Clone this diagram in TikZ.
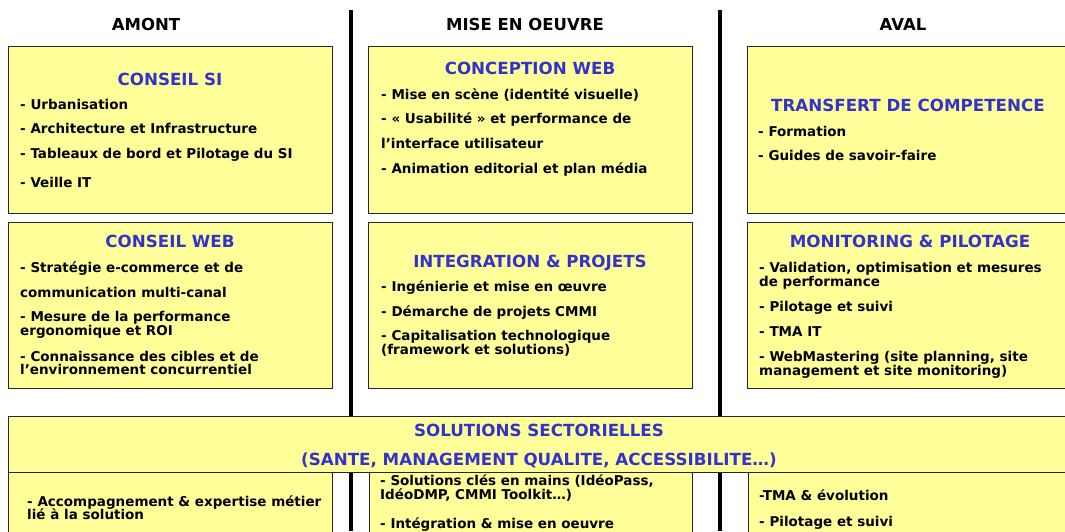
\documentclass[tikz,border=0pt]{standalone}
\usepackage{fontspec}
\setmainfont{DejaVu Sans}
\usepackage{tikz}
\usetikzlibrary{positioning, calc}
\definecolor{boxfill}{HTML}{FFFF99}
\definecolor{titleblue}{HTML}{3333CC}

\begin{document}
\begin{tikzpicture}[x=1pt, y=-1pt,
    box/.style={draw=black!85, line width=1.3pt, fill=boxfill, anchor=north west, inner sep=0pt},
    colhead/.style={font=\bfseries\fontsize{16.5}{18}\selectfont, anchor=base},
    boxtitle/.style={font=\bfseries\fontsize{16.7}{19}\selectfont, text=titleblue, anchor=base},
    entry/.style={font=\bfseries\fontsize{13.5}{15}\selectfont, anchor=base west, inner sep=0pt}]
  \useasboundingbox (0,0) rectangle (1065,531);
  \clip (0,0) rectangle (1065,531);
  %
  \node[colhead] (amont) at (146,30) {AMONT};
  \node[colhead] (mise) at (525,30) {MISE EN OEUVRE};
  \node[colhead] (aval) at (903,30) {AVAL};
  %
  \coordinate (sep1_top) at (351,10);
  \coordinate (sep1_bot) at (351,531);
  \coordinate (sep2_top) at (720,10);
  \coordinate (sep2_bot) at (720,531);
  \draw[line width=4pt] (sep1_top) -- (sep1_bot);
  \draw[line width=4pt] (sep2_top) -- (sep2_bot);

  % first row
  \node[box, minimum width=324, minimum height=167] (si_box) at (8,46) {};
  \node[box, minimum width=324, minimum height=167] (cw_box) at (368,46) {};
  \node[box, minimum width=324, minimum height=167] (tc_box) at (747,46) {};
  \node[boxtitle] (si_title) at (170,85) {CONSEIL SI};
  \node[entry] (si_l1) at (20,109) {- Urbanisation};
  \node[entry] (si_l2) at (20,133) {- Architecture et Infrastructure};
  \node[entry] (si_l3) at (20,158) {- Tableaux de bord et Pilotage du SI};
  \node[entry] (si_l4) at (20,187) {- Veille IT};
  \node[boxtitle] (cw_title) at (530,74) {CONCEPTION WEB};
  \node[entry] (cw_l1) at (381,99) {- Mise en scène (identité visuelle)};
  \node[entry] (cw_l2) at (381,123) {- « Usabilité » et performance de};
  \node[entry] (cw_l3) at (381,148) {l’interface utilisateur};
  \node[entry] (cw_l4) at (381,173) {- Animation editorial et plan média};
  \node[boxtitle] (tc_title) at (908,111) {TRANSFERT DE COMPETENCE};
  \node[entry] (tc_l1) at (758,136) {- Formation};
  \node[entry] (tc_l2) at (758,160) {- Guides de savoir-faire};

  % second row
  \node[box, minimum width=324, minimum height=166] (web_box) at (8,222) {};
  \node[box, minimum width=324, minimum height=166] (ip_box) at (368,222) {};
  \node[box, minimum width=324, minimum height=166] (mp_box) at (747,222) {};
  \node[boxtitle] (web_title) at (170,247) {CONSEIL WEB};
  \node[entry] (web_l1) at (20,272) {- Stratégie e-commerce et de};
  \node[entry] (web_l2) at (20,297) {communication multi-canal};
  \node[entry] (web_l3) at (20,321) {- Mesure de la performance};
  \node[entry] (web_l4) at (20,335) {ergonomique et ROI};
  \node[entry] (web_l5) at (20,361) {- Connaissance des cibles et de};
  \node[entry] (web_l6) at (20,374) {l’environnement concurrentiel};
  \node[boxtitle] (ip_title) at (530,267) {INTEGRATION \& PROJETS};
  \node[entry] (ip_l1) at (381,291) {- Ingénierie et mise en œuvre};
  \node[entry] (ip_l2) at (381,316) {- Démarche de projets CMMI};
  \node[entry] (ip_l3) at (381,340) {- Capitalisation technologique};
  \node[entry] (ip_l4) at (381,354) {(framework et solutions)};
  \node[boxtitle] (mp_title) at (910,247) {MONITORING \& PILOTAGE};
  \node[entry] (mp_l1) at (759,272) {- Validation, optimisation et mesures};
  \node[entry] (mp_l2) at (759,286) {de performance};
  \node[entry] (mp_l3) at (759,311) {- Pilotage et suivi};
  \node[entry] (mp_l4) at (759,336) {- TMA IT};
  \node[entry] (mp_l5) at (759,361) {- WebMastering (site planning, site};
  \node[entry] (mp_l6) at (759,375) {management et site monitoring)};

  % solutions
  \node[box, minimum width=1063, minimum height=56] (sol_box) at (8,416) {};
  \node[boxtitle] (sol_title) at (539,436) {SOLUTIONS SECTORIELLES};
  \node[boxtitle] (sol_sub) at (539,465) {(SANTE, MANAGEMENT QUALITE, ACCESSIBILITE…)};
  \node[box, minimum width=324, minimum height=80] (sa_box) at (8,472) {};
  \node[box, minimum width=323, minimum height=80] (sb_box) at (369,472) {};
  \node[box, minimum width=323, minimum height=80] (sc_box) at (748,472) {};
  \node[entry] (sa_l1) at (27,506) {- Accompagnement \& expertise métier};
  \node[entry] (sa_l2) at (27,519) {lié à la solution};
  \node[entry] (sb_l1) at (380,485) {- Solutions clés en mains (IdéoPass,};
  \node[entry] (sb_l2) at (380,499) {IdéoDMP, CMMI Toolkit…)};
  \node[entry] (sb_l3) at (380,528) {- Intégration \& mise en oeuvre};
  \node[entry] (sc_l1) at (759,500) {-TMA \& évolution};
  \node[entry] (sc_l2) at (759,526) {- Pilotage et suivi};
\end{tikzpicture}
\end{document}
